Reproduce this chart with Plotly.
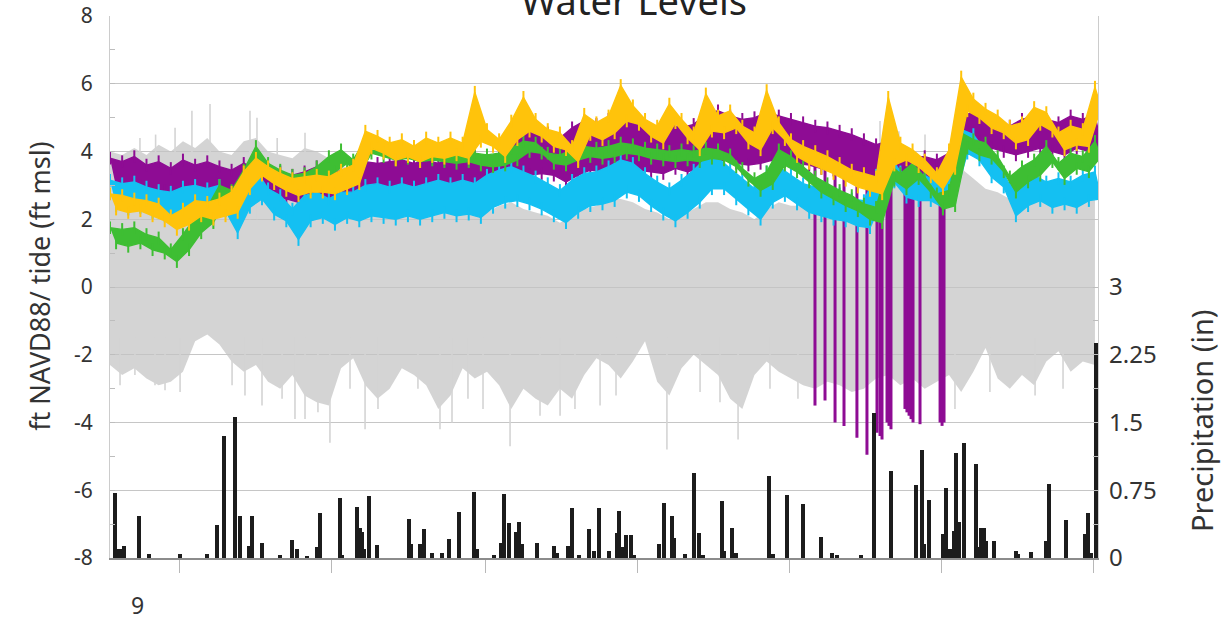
import plotly.graph_objects as go

# ---------------- data ----------------
# sampling grid of the water-level records (day index)
day_grid = [8 * i for i in range(82)]

yellow_hi = [2.75, 2.7, 2.6, 2.55, 2.45, 2.1, 2.3, 2.55, 2.5, 2.6, 2.8, 3.4, 3.8, 3.55, 3.35, 3.2, 3.25, 3.3, 3.25, 3.45,
             3.6, 4.6, 4.45, 4.25, 4.35, 4.15, 4.4, 4.25, 4.4, 4.25, 5.75, 4.65, 4.35, 4.9, 5.6, 4.95, 4.65, 4.55, 4.15, 5.1,
             4.85, 5.05, 5.95, 5.35, 4.95, 4.75, 5.4, 4.95, 4.55, 5.7, 5.05, 5.2, 4.75, 4.55, 5.8, 4.85, 4.35, 4.15, 4.0, 3.85,
             3.65, 3.45, 3.35, 3.25, 5.6, 4.25, 4.05, 3.75, 3.35, 4.05, 6.2, 5.55, 5.25, 5.05, 4.75, 4.85, 5.3, 5.15, 4.55, 4.75,
             4.65, 5.9]
yellow_lo = [2.3, 2.2, 2.25, 2.1, 1.95, 1.7, 1.85, 2.1, 2.0, 2.1, 2.2, 2.9, 3.3, 3.05, 2.85, 2.7, 2.8, 2.8, 2.75, 2.9,
             3.05, 4.1, 3.95, 3.75, 3.85, 3.7, 3.85, 3.8, 3.9, 3.8, 4.3, 4.15, 3.85, 4.35, 4.6, 4.45, 4.15, 4.05, 3.7, 4.5,
             4.35, 4.55, 4.9, 4.8, 4.45, 4.25, 4.85, 4.4, 4.05, 4.6, 4.55, 4.7, 4.25, 4.05, 4.7, 4.35, 3.85, 3.65, 3.5, 3.35,
             3.15, 2.95, 2.85, 2.75, 3.6, 3.75, 3.55, 3.25, 2.9, 3.5, 5.2, 5.0, 4.7, 4.55, 4.25, 4.35, 4.8, 4.6, 4.05, 4.2,
             4.15, 5.3]

green_hi = [1.75, 1.7, 1.75, 1.55, 1.45, 1.1, 1.55, 2.05, 2.35, 3.0, 2.85, 3.45, 4.15, 3.65, 3.45, 3.3, 3.35, 3.55, 3.85, 4.05,
            3.75, 4.35, 4.2, 4.1, 4.15, 4.05, 4.1, 4.05, 4.0, 4.05, 3.95, 3.9, 3.95, 4.1, 4.3, 4.25, 3.95, 3.9, 4.05, 4.15,
            4.1, 4.15, 4.25, 4.2, 4.1, 4.05, 4.0, 4.05, 4.0, 4.1, 4.05, 3.9, 3.5, 3.2, 3.4, 4.05, 3.85, 3.55, 3.25, 3.05,
            2.85, 2.7, 2.45, 2.35, 3.65, 3.35, 3.65, 3.25, 2.75, 2.85, 4.55, 4.35, 4.25, 3.85, 3.25, 3.55, 3.75, 4.15, 3.65, 3.95,
            3.85, 4.3]
green_lo = [1.3, 1.2, 1.3, 1.1, 1.0, 0.75, 1.1, 1.6, 1.9, 2.55, 2.4, 3.0, 3.7, 3.2, 3.0, 2.85, 2.9, 3.1, 3.4, 3.65,
            3.3, 3.95, 3.85, 3.75, 3.8, 3.7, 3.75, 3.7, 3.65, 3.7, 3.6, 3.55, 3.6, 3.75, 4.0, 3.95, 3.65, 3.6, 3.75, 3.85,
            3.8, 3.85, 3.95, 3.9, 3.8, 3.75, 3.7, 3.75, 3.7, 3.8, 3.75, 3.55, 3.15, 2.85, 3.05, 3.6, 3.4, 3.1, 2.8, 2.6,
            2.4, 2.25, 2.0, 1.9, 3.15, 2.9, 3.2, 2.8, 2.3, 2.4, 4.1, 3.9, 3.8, 3.4, 2.8, 3.1, 3.3, 3.7, 3.2, 3.5,
            3.4, 3.85]

cyan_hi = [3.15, 3.05, 3.1, 2.95, 2.85, 2.8, 2.95, 3.0, 2.9, 3.0, 2.6, 3.1, 3.45, 2.9, 2.7, 2.3, 2.7, 2.8, 2.6, 2.8,
           2.8, 3.0, 3.05, 2.95, 3.05, 2.95, 3.05, 3.15, 3.05, 3.15, 3.05, 3.3, 3.45, 3.55, 3.4, 3.25, 3.05, 2.85, 3.15, 3.35,
           3.4, 3.55, 3.75, 3.65, 3.35, 3.1, 2.9, 3.15, 3.45, 3.8, 3.8, 3.5, 3.2, 2.9, 3.4, 3.55, 3.3, 3.05, 2.95, 2.85,
           2.75, 2.6, 2.55, 3.3, 3.95, 3.4, 3.3, 3.3, 3.1, 3.4, 4.65, 4.5, 4.0, 3.7, 3.0, 3.15, 3.3, 3.1, 3.2, 3.1,
           3.3, 3.4]
cyan_lo = [2.4, 2.3, 2.35, 2.2, 2.1, 2.05, 2.2, 2.2, 2.15, 2.25, 1.6, 2.35, 2.6, 2.15, 1.95, 1.4, 1.95, 2.05, 1.85, 2.05,
           1.95, 2.1, 2.05, 2.0, 2.1, 2.0, 2.1, 2.2, 2.1, 2.15, 2.05, 2.35, 2.5, 2.55, 2.45, 2.3, 2.1, 1.9, 2.2, 2.4,
           2.45, 2.55, 2.8, 2.7, 2.4, 2.15, 1.95, 2.2, 2.5, 2.9, 2.9, 2.6, 2.3, 2.0, 2.5, 2.7, 2.45, 2.2, 2.1, 2.0,
           1.95, 1.8, 1.75, 2.55, 3.1, 2.65, 2.55, 2.55, 2.35, 2.65, 3.95, 3.75, 3.25, 2.95, 2.1, 2.4, 2.55, 2.35, 2.45, 2.35,
           2.55, 2.6]

purple_hi = [3.8, 3.7, 3.85, 3.6, 3.7, 3.5, 3.75, 3.6, 3.7, 3.55, 3.45, 3.65, 3.5, 3.5, 3.4, 3.3, 3.4, 3.55, 3.3, 3.45,
             3.4, 3.7, 3.65, 3.7, 3.75, 3.65, 3.75, 3.65, 3.8, 3.75, 3.85, 3.75, 3.9, 4.45, 4.55, 4.7, 4.55, 4.4, 4.7, 4.9,
             4.8, 4.95, 5.0, 4.9, 4.7, 4.6, 4.8, 4.7, 4.8, 5.1, 5.2, 5.05, 4.95, 5.0, 5.15, 5.05, 4.95, 4.85, 4.75, 4.7,
             4.6, 4.5, 4.35, 4.2, 4.3, 3.95, 3.85, 3.85, 3.75, 3.95, 5.05, 5.15, 4.95, 4.85, 4.75, 4.95, 5.05, 4.95, 4.85, 5.05,
             4.95, 5.1]
purple_lo = [2.95, 2.9, 3.0, 2.8, 2.85, 2.75, 2.9, 2.8, 2.85, 2.7, 2.6, 2.8, 2.7, 2.65, 2.6, 2.5, 2.55, 2.7, 2.5, 2.6,
             2.55, 2.85, 2.8, 2.85, 2.9, 2.8, 2.9, 2.8, 2.95, 2.9, 3.0, 2.9, 3.05, 3.2, 3.3, 3.35, 3.3, 3.1, 3.3, 3.45,
             3.4, 3.5, 3.5, 3.45, 3.4, 3.35, 3.5, 3.4, 3.5, 3.7, 3.75, 3.65, 3.6, 3.65, 3.75, 3.7, 3.65, 3.6, 3.5, 3.45,
             3.4, 3.35, 3.3, 3.2, 3.3, 3.0, 2.9, 2.9, 2.8, 3.0, 4.2, 4.3, 4.1, 4.0, 3.9, 4.0, 4.1, 4.0, 3.9, 4.1,
             4.0, 4.2]

# sensor drop-outs in the purple record (day, level before, low)
purple_dip_day = [463.8, 470.4, 477.0, 482.9, 491.4, 498.0, 504.6, 506.6, 507.9, 511.2, 512.5, 513.8,
                  523.0, 524.3, 525.7, 527.0, 528.3, 532.9, 546.1, 547.4, 548.7]
purple_dip_from = [3.9, 3.8, 3.7, 3.6, 3.5, 3.5, 3.4, 3.4, 3.4, 3.3, 3.3, 3.3,
                   3.2, 3.2, 3.2, 3.2, 3.2, 3.1, 3.2, 3.2, 3.2]
purple_dip_low = [-3.5, -3.35, -4.0, -4.1, -4.45, -4.95, -4.3, -4.4, -4.5, -4.0, -4.1, -4.2,
                  -3.6, -3.7, -3.8, -3.9, -4.0, -4.05, -4.0, -4.1, -4.0]

# tide (ft msl): envelope of high / low water
tide_hi = [4.0, 3.9, 4.1, 3.9, 4.2, 4.0, 4.3, 4.1, 4.4, 4.0, 3.9, 4.3, 4.4, 4.0, 3.9, 3.8, 4.1, 4.0, 3.8, 3.6,
           3.4, 3.4, 3.2, 3.0, 2.9, 2.8, 2.6, 2.4, 2.3, 2.2, 2.1, 2.2, 2.4, 2.5, 2.3, 2.2, 2.1, 1.9, 2.1, 2.3,
           2.4, 2.6, 2.6, 2.5, 2.3, 2.2, 2.0, 2.1, 2.3, 2.5, 2.5, 2.3, 2.2, 2.0, 2.3, 2.5, 2.4, 2.4, 2.5, 2.5,
           2.4, 2.3, 2.2, 3.0, 3.9, 3.7, 4.0, 3.8, 3.5, 3.3, 3.5, 3.2, 2.9, 2.8, 2.6, 2.5, 2.7, 2.6, 2.5, 2.6,
           2.7, 2.9]
tide_lo = [-2.3, -2.6, -2.4, -2.7, -2.9, -2.8, -2.5, -1.6, -1.4, -1.7, -2.2, -2.5, -2.3, -2.8, -3.0, -2.6, -3.2, -3.4, -3.5, -2.4,
           -2.1, -2.9, -3.3, -3.0, -2.4, -2.6, -2.9, -3.6, -3.2, -2.4, -2.7, -2.5, -2.9, -3.6, -3.0, -3.3, -3.5, -3.0, -3.3, -2.6,
           -2.1, -2.3, -2.7, -2.2, -1.6, -2.8, -3.2, -2.4, -2.0, -2.3, -2.6, -3.3, -3.6, -2.6, -2.2, -2.5, -2.7, -2.9, -3.0, -2.8,
           -2.9, -3.1, -3.0, -2.7, -2.6, -2.9, -2.7, -3.0, -2.8, -2.6, -3.1, -2.5, -1.8, -2.7, -3.0, -2.6, -2.9, -2.2, -1.9, -2.5,
           -2.2, -2.3]
# individual extreme tides poking out of the envelope
tide_peak_day = [19.7, 42.8, 53.9, 65.8, 92.1, 96.7, 128.3, 506.6, 536.2, 519.0, 30.0, 110.0,
                 46.1, 128.3, 144.7, 167.8, 217.1, 225.0, 263.2, 296.1, 322.4, 366.4, 413.2,
                 6.6, 16.4, 29.6, 36.2, 80.3, 88.8, 100.0, 113.2, 121.7, 136.8, 157.9, 176.3, 202.6,
                 235.5, 245.4, 282.9, 305.9, 332.9, 388.2, 401.3, 434.2, 452.6, 555.9, 578.9, 608.6, 627.0]
tide_peak_val = [4.4, 4.7, 5.2, 5.4, 5.2, 5.0, 4.55, 4.9, 4.5, 4.6, 4.5, 4.4,
                 -3.1, -3.9, -4.6, -4.2, -4.2, -4.0, -4.7, -3.8, -3.5, -4.8, -4.5,
                 -2.9, -2.6, -2.9, -3.05, -2.9, -3.2, -3.5, -3.3, -3.9, -3.7, -3.0, -3.6, -3.0,
                 -3.3, -3.6, -3.8, -3.6, -3.2, -3.1, -3.4, -3.0, -3.3, -3.6, -3.1, -3.2, -3.0]

# daily precipitation (in)
precip_day = [3.3, 5.3, 7.2, 9.2, 19.1, 25.7, 46.1, 63.8, 70.4, 75.0, 82.2, 85.5, 91.4, 93.4, 100.0, 111.8, 119.7, 123.0,
              129.6, 136.2, 138.2, 151.3, 152.6, 162.5, 164.5, 165.8, 167.1, 170.4, 175.7, 196.7, 198.0, 203.9, 205.3,
              206.6, 211.8, 218.4, 223.0, 229.6, 239.5, 241.4, 252.6, 257.2, 259.2, 262.5, 267.1, 269.1, 271.1, 280.9,
              292.1, 294.1, 301.3, 303.9, 308.6, 315.1, 318.4, 321.7, 328.3, 333.6, 334.9, 336.8, 339.5, 342.8, 344.7,
              361.2, 364.5, 369.7, 371.1, 378.3, 384.2, 387.5, 390.1, 402.6, 403.9, 409.2, 411.8, 433.6, 436.2, 445.4,
              455.9, 467.8, 475.0, 478.3, 494.1, 502.6, 513.8, 530.3, 534.2, 535.5, 538.8, 548.0, 550.0, 552.6, 555.3,
              556.6, 558.6, 561.8, 569.7, 571.1, 573.0, 575.0, 576.3, 581.6, 596.1, 597.4, 605.9, 615.8, 617.8, 628.9,
              641.4, 643.4, 645.4, 648.7]
precip_in = [0.72, 0.1, 0.1, 0.13, 0.47, 0.04, 0.04, 0.04, 0.36, 1.35, 1.56, 0.47, 0.13, 0.47, 0.17, 0.03, 0.2, 0.1,
             0.02, 0.12, 0.5, 0.66, 0.03, 0.56, 0.33, 0.29, 0.1, 0.69, 0.14, 0.43, 0.15, 0.15, 0.16,
             0.32, 0.05, 0.06, 0.21, 0.51, 0.73, 0.1, 0.03, 0.17, 0.71, 0.39, 0.29, 0.4, 0.15, 0.17,
             0.13, 0.05, 0.13, 0.55, 0.03, 0.32, 0.08, 0.55, 0.08, 0.28, 0.52, 0.12, 0.26, 0.26, 0.03,
             0.15, 0.61, 0.46, 0.22, 0.04, 0.94, 0.28, 0.03, 0.63, 0.08, 0.33, 0.05, 0.91, 0.04, 0.7,
             0.6, 0.23, 0.05, 0.03, 0.03, 1.6, 0.96, 0.81, 1.2, 0.15, 0.64, 0.27, 0.78, 0.1, 0.3,
             1.16, 0.4, 1.27, 1.04, 0.12, 0.33, 0.33, 0.19, 0.19, 0.08, 0.04, 0.07, 0.19, 0.82, 0.42,
             0.27, 0.5, 0.05, 2.38]

x_ticks = [46, 146, 247, 347, 447, 547, 647]
left_ticks = [-8, -6, -4, -2, 0, 2, 4, 6, 8]
left_labels = ["-8", "-6", "-4", "-2", "0", "2", "4", "6", "8"]
right_ticks = [0, 0.75, 1.5, 2.25, 3]
right_labels = ["0", "0.75", "1.5", "2.25", "3"]

# ---------------- figure ----------------
FONT = "Noto Sans"
TXT = "#333333"
TIDE = "#d4d4d4"

fig = go.Figure()

# tide envelope
fig.add_trace(go.Scatter(x=day_grid, y=tide_hi, mode="lines", line=dict(width=0, color="rgba(0,0,0,0)"),
                         showlegend=False, hoverinfo="skip"))
fig.add_trace(go.Scatter(x=day_grid, y=tide_lo, mode="lines", line=dict(width=0, color="rgba(0,0,0,0)"),
                         fill="tonexty", fillcolor="rgba(196,196,196,0.72)", showlegend=False, name="tide"))
px, py = [], []
for d, v in zip(tide_peak_day, tide_peak_val):
    px += [d, d, None]
    py += [(2.0 if v > 0 else -1.5), v, None]
fig.add_trace(go.Scatter(x=px, y=py, mode="lines", line=dict(width=1.6, color=TIDE),
                         showlegend=False, hoverinfo="skip"))

# purple drop-outs
dx, dy = [], []
for d, f, l in zip(purple_dip_day, purple_dip_from, purple_dip_low):
    dx += [d, d, None]
    dy += [f, l, None]
fig.add_trace(go.Scatter(x=dx, y=dy, mode="lines", line=dict(width=3, color="#8E0C94"),
                         showlegend=False, hoverinfo="skip"))

# water-level bands (high/low of the noisy record)
for hi, lo, col in [(purple_hi, purple_lo, "#8E0C94"), (cyan_hi, cyan_lo, "#14C0F2"),
                    (green_hi, green_lo, "#3EBE33"), (yellow_hi, yellow_lo, "#FFC30B")]:
    xs = list(day_grid) + [t + 4 for t in day_grid][::-1]
    ys = list(hi) + list(lo)[::-1]
    fig.add_trace(go.Scatter(x=xs, y=ys, mode="lines+markers", fill="toself", fillcolor=col,
                             line=dict(width=1.4, color=col),
                             marker=dict(symbol="line-ns", size=9, line=dict(width=2, color=col)),
                             showlegend=False))

fig.add_trace(go.Bar(x=precip_day, y=precip_in, yaxis="y2", width=2.2,
                     marker=dict(color="#1c1c1c", line=dict(width=0)), showlegend=False, name="Precipitation"))

fig.update_layout(
    width=1229, height=620,
    margin=dict(l=110, r=131, t=16, b=62, autoexpand=False),
    paper_bgcolor="white", plot_bgcolor="white",
    font=dict(family=FONT, color=TXT),
    xaxis=dict(range=[0, 650], tickvals=x_ticks, ticktext=[""] * len(x_ticks), ticks="outside",
               ticklen=13, tickcolor="#b8b8b8", showgrid=False, zeroline=False, automargin=False,
               showline=True, linecolor="#8c8c8c", linewidth=1.5),
    yaxis=dict(range=[-8, 8], tickvals=left_ticks, ticktext=left_labels, ticks="inside", ticklen=5,
               tickcolor="#bdbdbd", automargin=False,
               showgrid=True, gridcolor="#c6c6c6", gridwidth=1.2, zeroline=False,
               showline=True, linecolor="#cccccc", linewidth=1.2, mirror=True,
               tickfont=dict(size=21, color=TXT), ticklabelstandoff=12,
               minor=dict(tickvals=[-7, -5, -3, -1, 1, 3, 5, 7], ticks="inside", ticklen=5,
                          tickcolor="#bdbdbd", showgrid=False)),
    yaxis2=dict(range=[0, 6], overlaying="y", side="right", tickvals=right_ticks, ticktext=right_labels,
                ticks="inside", ticklen=5, tickcolor="#bdbdbd", showgrid=False, zeroline=False,
                automargin=False, showline=False, tickfont=dict(size=24, color=TXT), ticklabelstandoff=10,
                minor=dict(tickvals=[0.375, 1.125, 1.875, 2.625], ticks="inside", ticklen=5,
                           tickcolor="#bdbdbd", showgrid=False)),
    bargap=0,
    annotations=[
        dict(text="Water Levels", xref="paper", yref="paper", x=0.53, y=1.0, xanchor="center",
             yanchor="bottom", yshift=-12, showarrow=False, font=dict(size=38, color="#222222")),
        dict(text="ft NAVD88/ tide (ft msl)", xref="paper", yref="paper", x=-0.0709, y=0.502,
             xanchor="center", yanchor="middle",
             textangle=-90, showarrow=False, font=dict(size=27, color=TXT)),
        dict(text="Precipitation (in)", xref="paper", yref="paper", x=1.1053, y=0.2528,
             xanchor="center", yanchor="middle",
             textangle=-90, showarrow=False, font=dict(size=29, color=TXT)),
        dict(text="9", xref="x", yref="paper", x=17.8, y=-0.0867, xanchor="center", yanchor="middle",
             showarrow=False, font=dict(size=23, color=TXT)),
    ],
)

fig.write_html("out.html", config={"displayModeBar": False},
               post_script="document.body.style.margin='0';document.body.style.overflow='hidden';")
